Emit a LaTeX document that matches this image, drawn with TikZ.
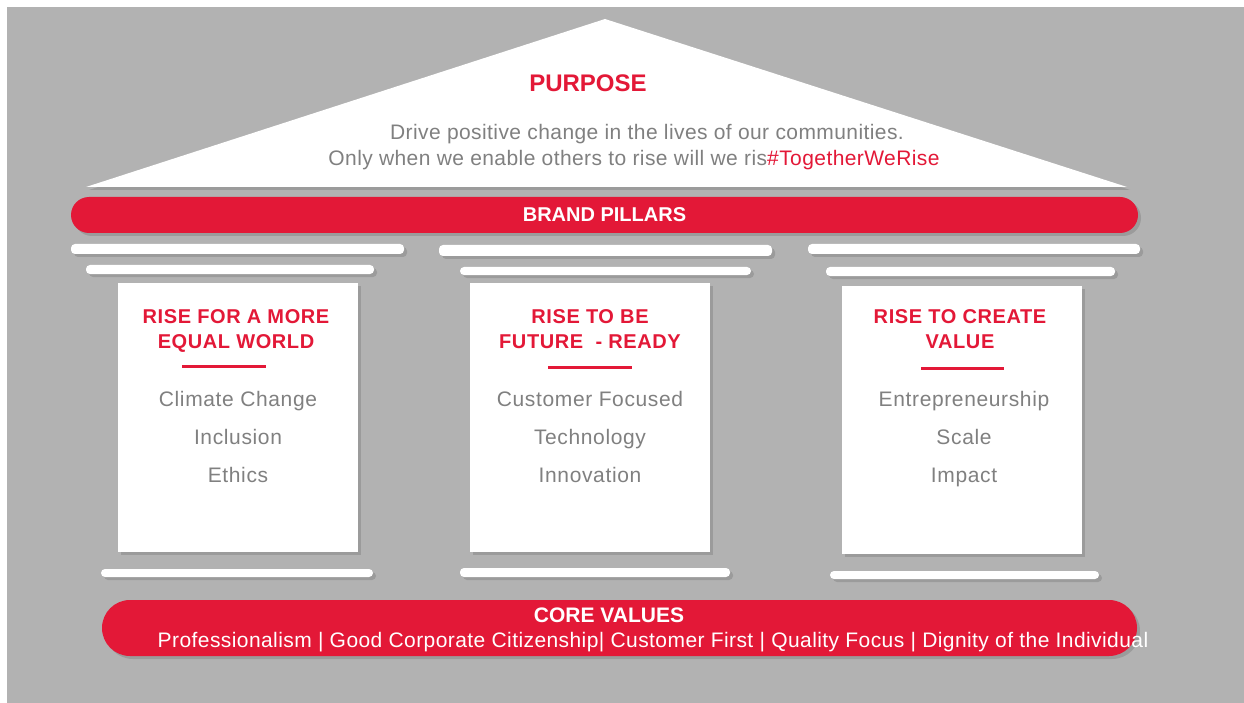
\documentclass[tikz,border=0pt]{standalone}
\usepackage{fontspec}
\setmainfont{Liberation Sans}
\newfontfamily\spacedfont[LetterSpace=3]{Liberation Sans}
\newfontfamily\widefont[LetterSpace=2]{Liberation Sans}
\usetikzlibrary{shadows}
\definecolor{brandred}{RGB}{227,24,55}
\definecolor{bggray}{RGB}{178,178,178}
\definecolor{txtgray}{RGB}{128,128,128}
\tikzset{
	softshadow/.style={drop shadow={opacity=.45, shadow xshift=3pt, shadow yshift=-3pt}},
	redbar/.style={fill=brandred, rounded corners=#1, inner sep=0pt, softshadow},
	capbar/.style={fill=white, rounded corners=4pt, softshadow},
	pillarbox/.style={fill=white, inner sep=0pt, softshadow},
	headtxt/.style={anchor=north, inner sep=0pt, text=brandred, align=center,
		font=\spacedfont\bfseries\fontsize{20}{25}\selectfont},
	itemtxt/.style={anchor=north, inner sep=0pt, text=txtgray, align=center,
		font=\spacedfont\fontsize{21}{38}\selectfont},
	underline/.style={draw=brandred, line width=3pt}
}

\begin{document}
\begin{tikzpicture}[x=1pt, y=-1pt]
\useasboundingbox (0,0) rectangle (1244,703);
\fill[bggray] (7,7) rectangle (1244,703);

% roof
\path[fill=white, softshadow] (605,19) -- (1127,187) -- (86,187) -- cycle;
\node[text=brandred, font=\bfseries\fontsize{24}{28}\selectfont] (purpose) at (588,83) {PURPOSE};
\node[text=txtgray, font=\widefont\fontsize{21}{24}\selectfont] (purposeA) at (647,134)
	{Drive positive change in the lives of our communities.};
\node[text=txtgray, font=\widefont\fontsize{21}{24}\selectfont] (purposeB) at (634,160)
	{Only when we enable others to rise will we ris\textcolor{brandred}{\#TogetherWeRise}};

% brand pillars
\node[redbar=18pt, minimum width=1067pt, minimum height=36pt, text=white,
	font=\bfseries\fontsize{20}{22}\selectfont] (brand) at (604.5,215) {BRAND PILLARS};

% capitals
\path[capbar] (71,244) rectangle (404,254);
\path[capbar] (86,265) rectangle (374,274);
\path[capbar] (439,245) rectangle (772,256);
\path[capbar] (460,267) rectangle (751,275);
\path[capbar] (808,244) rectangle (1140,254);
\path[capbar] (826,267) rectangle (1115,276);

% pillars
\node[pillarbox, minimum width=240pt, minimum height=269pt] (pillarA) at (238,417.5) {};
\node[pillarbox, minimum width=240pt, minimum height=269pt] (pillarB) at (590,417.5) {};
\node[pillarbox, minimum width=240pt, minimum height=268pt] (pillarC) at (962,420) {};

\node[headtxt] (headA) at (236,309) {RISE FOR A MORE\\EQUAL WORLD};
\node[headtxt] (headB) at (590,309) {RISE TO BE\\FUTURE \ - READY};
\node[headtxt] (headC) at (960,309) {RISE TO CREATE\\VALUE};

\draw[underline] (182,366) -- (266,366);
\draw[underline] (548,367) -- (632,367);
\draw[underline] (921,368) -- (1004,368);

\node[itemtxt] (itemsA) at (238,391) {Climate Change\\Inclusion\\Ethics};
\node[itemtxt] (itemsB) at (590,391) {Customer Focused\\Technology\\Innovation};
\node[itemtxt] (itemsC) at (964,391) {Entrepreneurship\\Scale\\Impact};

% bases
\path[capbar] (101,569) rectangle (373,577);
\path[capbar] (460,568) rectangle (730,577);
\path[capbar] (830,571) rectangle (1099,579);

% core values
\node[redbar=28pt, minimum width=1035pt, minimum height=56pt] (core) at (619.5,628) {};
\node[text=white, font=\bfseries\fontsize{21}{24}\selectfont] (coretitle) at (609,615) {CORE VALUES};
\node[text=white, font=\widefont\fontsize{21}{24}\selectfont] (corelist) at (653,642)
	{Professionalism | Good Corporate Citizenship| Customer First | Quality Focus | Dignity of the Individual};
\end{tikzpicture}
\end{document}
